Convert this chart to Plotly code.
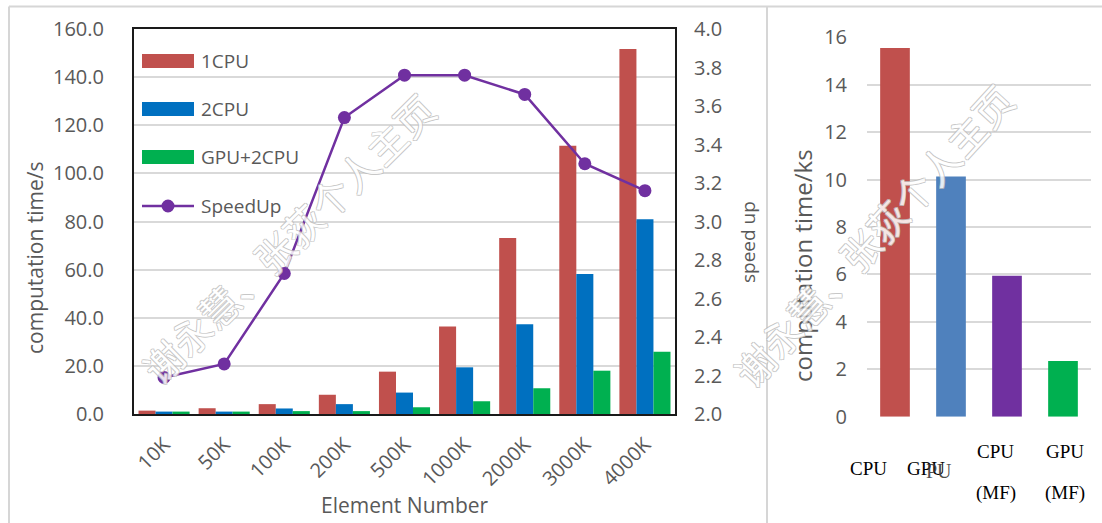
import plotly.graph_objects as go

# ---- data -------------------------------------------------------------
elements = ["10K", "50K", "100K", "200K", "500K", "1000K", "2000K", "3000K", "4000K"]
time_1cpu = [1.4, 2.4, 4.1, 8.0, 17.6, 36.4, 73.1, 111.5, 151.7]
time_2cpu = [1.0, 1.0, 2.3, 4.1, 8.9, 19.4, 37.3, 58.2, 80.9]
time_gpu_2cpu = [1.0, 1.0, 1.2, 1.2, 2.8, 5.3, 10.7, 18.0, 25.9]
speedup = [2.19, 2.26, 2.73, 3.54, 3.76, 3.76, 3.66, 3.30, 3.16]
series_names = ["1CPU", "2CPU", "GPU+2CPU", "SpeedUp"]

solver_labels = ["CPU", "GPU", "CPU\n(MF)", "GPU\n(MF)"]
solver_time_ks = [15.54, 10.13, 5.94, 2.35]

# ---- styling ----------------------------------------------------------
W, H = 1102, 523
RED, BLUE, GREEN, PURPLE = "#C0504D", "#0070C0", "#00B050", "#7030A0"
SOLVER_COLORS = ["#C0504D", "#4F81BD", "#7030A0", "#00B050"]
GRID = "#D9D9D9"
TXT = "#595959"
FONT = "Open Sans"


def px(x):
    return x / W


def py(y):
    return 1 - y / H


fig = go.Figure()

for name, vals, col in zip(series_names[:3], [time_1cpu, time_2cpu, time_gpu_2cpu], [RED, BLUE, GREEN]):
    fig.add_trace(go.Bar(x=elements, y=vals, name=name, marker=dict(color=col, line_width=0),
                         xaxis="x", yaxis="y", showlegend=False))

fig.add_trace(go.Scatter(x=elements, y=speedup, name=series_names[3], mode="lines+markers",
                         line=dict(color=PURPLE, width=2.5), marker=dict(color=PURPLE, size=13),
                         xaxis="x", yaxis="y2", showlegend=False))

fig.add_trace(go.Bar(x=solver_labels, y=solver_time_ks, width=0.53,
                     marker=dict(color=SOLVER_COLORS, line_width=0),
                     xaxis="x3", yaxis="y3", showlegend=False))

tick_font = dict(family=FONT, size=20, color=TXT)

fig.update_layout(
    width=W, height=H,
    margin=dict(l=0, r=0, t=0, b=0, autoexpand=False),
    paper_bgcolor="white", plot_bgcolor="white",
    barmode="group", bargap=0.15, bargroupgap=0,
    font=dict(family=FONT, color=TXT),
    xaxis=dict(domain=[px(134), px(675)], range=[-0.5, 8.5], type="category", automargin=False,
               showline=True, linecolor="#1a1a1a", linewidth=2, mirror=True,
               tickangle=-45, tickfont=dict(family=FONT, size=20, color=TXT),
               ticks="", ticklabelstandoff=9, showgrid=False, anchor="y"),
    yaxis=dict(domain=[py(414), py(29)], range=[0, 160], dtick=20, tickformat=".1f", automargin=False,
               showline=True, linecolor="#1a1a1a", linewidth=2, mirror=True,
               gridcolor=GRID, gridwidth=1.5, zeroline=False,
               tickfont=tick_font, ticks="", ticklabelstandoff=24, anchor="x"),
    yaxis2=dict(overlaying="y", side="right", range=[2, 4], dtick=0.2, tickformat=".1f", automargin=False,
                showgrid=False, zeroline=False, showline=False,
                tickfont=tick_font, ticks="", ticklabelstandoff=18, anchor="x"),
    xaxis3=dict(domain=[px(867), px(1091)], range=[-0.5, 3.5], type="category", automargin=False,
                showticklabels=False, showgrid=False, showline=False, ticks="", anchor="y3"),
    yaxis3=dict(domain=[py(416.7), py(36.7)], range=[0, 16.02], dtick=2, automargin=False,
                gridcolor=GRID, gridwidth=1.5, zeroline=False, showline=False,
                tickfont=tick_font, ticks="", ticklabelstandoff=19, anchor="x3"),
)

shapes = []
annotations = []

# outer frame and panel separator
frame = dict(type="line", xref="paper", yref="paper", line=dict(color="#D6D6D6", width=2))
shapes.append(dict(frame, x0=px(9), x1=px(1102), y0=py(6.5), y1=py(6.5)))
shapes.append(dict(frame, x0=px(9), x1=px(9), y0=py(6.5), y1=py(523)))
shapes.append(dict(frame, x0=px(767), x1=px(767), y0=py(6.5), y1=py(523)))

# in-plot legend
legend_rows = [61, 109, 157, 206]
for name, col, yc in zip(series_names[:3], [RED, BLUE, GREEN], legend_rows[:3]):
    shapes.append(dict(type="rect", xref="paper", yref="paper", x0=px(142), x1=px(194),
                       y0=py(yc + 7), y1=py(yc - 7), fillcolor=col, line_width=0))
yc = legend_rows[3]
shapes.append(dict(type="line", xref="paper", yref="paper", x0=px(142), x1=px(194),
                   y0=py(yc), y1=py(yc), line=dict(color=PURPLE, width=2.5)))
shapes.append(dict(type="circle", xref="paper", yref="paper", x0=px(161.5), x1=px(174.5),
                   y0=py(yc + 6.5), y1=py(yc - 6.5), fillcolor=PURPLE, line_width=0))
for name, yc in zip(series_names, legend_rows):
    annotations.append(dict(text=name, x=px(199), y=py(yc), xref="paper", yref="paper",
                            xanchor="left", yanchor="middle", showarrow=False,
                            font=dict(family=FONT, size=19, color=TXT)))

# axis titles
def title(text, x, y, size, angle=0):
    annotations.append(dict(text=text, x=px(x), y=py(y), xref="paper", yref="paper",
                            xanchor="center", yanchor="middle", showarrow=False, textangle=angle,
                            font=dict(family=FONT, size=size, color=TXT)))


title("computation time/s", 35, 258, 21, -90)
title("speed up", 748, 242, 19, -90)
title("Element Number", 405, 505, 21)
title("computation time/ks", 802, 266, 24, -90)

# category labels of the right panel
label_pos = [(868, [468]), (926, [468]), (995.5, [451, 493]), (1065, [451, 493])]
serif = dict(family="Liberation Serif", size=19, color="black")
for lab, (x, ys) in zip(solver_labels, label_pos):
    for line, y in zip(lab.split("\n"), ys):
        annotations.append(dict(text=line, x=px(x), y=py(y), xref="paper", yref="paper",
                                xanchor="center", yanchor="middle", showarrow=False, font=serif))
annotations.append(dict(text="PU", x=px(938.5), y=py(471), xref="paper", yref="paper",
                        xanchor="center", yanchor="middle", showarrow=False, opacity=0.9,
                        font=dict(family="Liberation Serif", size=20, color="#3a3a3a")))

# outlined watermark
mark = "谢永慧、张荻个人主页"
outline = "1px 0 #BDBDBD, -1px 0 #BDBDBD, 0 1px #BDBDBD, 0 -1px #BDBDBD"
for x, y, ang in [(288, 238, -44.5), (873, 235, -47.5)]:
    annotations.append(dict(text=mark, x=px(x), y=py(y), xref="paper", yref="paper",
                            xanchor="center", yanchor="middle", showarrow=False, textangle=ang,
                            opacity=0.85,
                            font=dict(family="Noto Sans CJK SC", size=39, color="white",
                                      shadow=outline)))

fig.update_layout(shapes=shapes, annotations=annotations)
fig.write_html("out.html")
